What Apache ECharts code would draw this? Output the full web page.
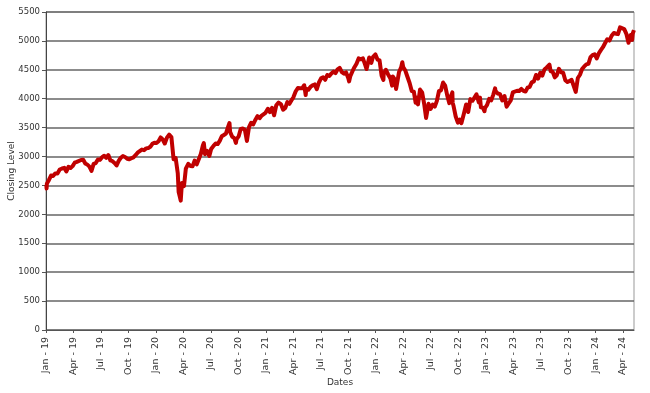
<!DOCTYPE html>
<html>
<head>
<meta charset="utf-8">
<script src="https://cdn.jsdelivr.net/npm/echarts@6/dist/echarts.min.js"></script>
<style>html,body{margin:0;padding:0;background:#fff;}#c{width:650px;height:393px;}</style>
</head>
<body>
<div id="c"></div>
<script>
const dates = [
'2019-01-02','2019-01-03','2019-01-04','2019-01-11','2019-01-18','2019-01-25','2019-02-01','2019-02-08','2019-02-15','2019-02-22','2019-03-01','2019-03-08','2019-03-15','2019-03-22','2019-03-29','2019-04-05','2019-04-12','2019-04-18','2019-04-26','2019-05-03','2019-05-10','2019-05-17','2019-05-24','2019-05-31','2019-06-07','2019-06-14','2019-06-21','2019-06-28','2019-07-05','2019-07-12','2019-07-19','2019-07-26','2019-08-02','2019-08-09','2019-08-16','2019-08-23','2019-08-30','2019-09-06','2019-09-13','2019-09-20','2019-09-27','2019-10-04','2019-10-11','2019-10-18','2019-10-25','2019-11-01','2019-11-08','2019-11-15','2019-11-22','2019-11-29','2019-12-06','2019-12-13','2019-12-20','2019-12-27',
'2020-01-03','2020-01-10','2020-01-17','2020-01-24','2020-01-31','2020-02-07','2020-02-14','2020-02-19','2020-02-21','2020-02-28','2020-03-06','2020-03-13','2020-03-16','2020-03-20','2020-03-23','2020-03-27','2020-04-03','2020-04-09','2020-04-17','2020-04-24','2020-05-01','2020-05-08','2020-05-15','2020-05-22','2020-05-29','2020-06-05','2020-06-08','2020-06-12','2020-06-19','2020-06-26','2020-07-02','2020-07-10','2020-07-17','2020-07-24','2020-07-31','2020-08-07','2020-08-14','2020-08-21','2020-08-28','2020-09-02','2020-09-04','2020-09-11','2020-09-18','2020-09-23','2020-09-25','2020-10-02','2020-10-09','2020-10-16','2020-10-23','2020-10-30','2020-11-06','2020-11-13','2020-11-20','2020-11-27','2020-12-04','2020-12-11','2020-12-18','2020-12-24','2020-12-31',
'2021-01-08','2021-01-15','2021-01-22','2021-01-29','2021-02-05','2021-02-12','2021-02-19','2021-02-26','2021-03-05','2021-03-12','2021-03-19','2021-03-26','2021-04-01','2021-04-09','2021-04-16','2021-04-23','2021-04-30','2021-05-07','2021-05-12','2021-05-14','2021-05-21','2021-05-28','2021-06-04','2021-06-11','2021-06-18','2021-06-25','2021-07-02','2021-07-09','2021-07-16','2021-07-23','2021-07-30','2021-08-06','2021-08-13','2021-08-20','2021-08-27','2021-09-03','2021-09-10','2021-09-17','2021-09-24','2021-10-01','2021-10-04','2021-10-08','2021-10-15','2021-10-22','2021-10-29','2021-11-05','2021-11-12','2021-11-19','2021-11-26','2021-12-01','2021-12-03','2021-12-10','2021-12-17','2021-12-23','2021-12-31',
'2022-01-03','2022-01-07','2022-01-14','2022-01-21','2022-01-27','2022-01-28','2022-02-04','2022-02-11','2022-02-18','2022-02-23','2022-02-25','2022-03-04','2022-03-08','2022-03-11','2022-03-18','2022-03-25','2022-03-29','2022-04-01','2022-04-08','2022-04-14','2022-04-22','2022-04-29','2022-05-06','2022-05-12','2022-05-13','2022-05-20','2022-05-27','2022-06-03','2022-06-10','2022-06-16','2022-06-17','2022-06-24','2022-07-01','2022-07-08','2022-07-15','2022-07-22','2022-07-29','2022-08-05','2022-08-12','2022-08-16','2022-08-19','2022-08-26','2022-09-02','2022-09-09','2022-09-12','2022-09-13','2022-09-16','2022-09-23','2022-09-30','2022-10-07','2022-10-12','2022-10-14','2022-10-21','2022-10-28','2022-11-04','2022-11-11','2022-11-18','2022-11-25','2022-12-01','2022-12-02','2022-12-09','2022-12-13','2022-12-16','2022-12-23','2022-12-28','2022-12-30',
'2023-01-06','2023-01-13','2023-01-20','2023-01-27','2023-02-02','2023-02-03','2023-02-10','2023-02-17','2023-02-24','2023-03-03','2023-03-10','2023-03-13','2023-03-17','2023-03-24','2023-03-31','2023-04-06','2023-04-14','2023-04-21','2023-04-28','2023-05-05','2023-05-12','2023-05-19','2023-05-26','2023-06-02','2023-06-09','2023-06-16','2023-06-23','2023-06-30','2023-07-07','2023-07-14','2023-07-21','2023-07-31','2023-08-04','2023-08-11','2023-08-18','2023-08-25','2023-09-01','2023-09-08','2023-09-15','2023-09-22','2023-09-29','2023-10-06','2023-10-13','2023-10-20','2023-10-27','2023-11-03','2023-11-10','2023-11-17','2023-11-24','2023-12-01','2023-12-08','2023-12-15','2023-12-22','2023-12-29',
'2024-01-05','2024-01-12','2024-01-19','2024-01-26','2024-02-02','2024-02-09','2024-02-16','2024-02-23','2024-03-01','2024-03-08','2024-03-15','2024-03-22','2024-03-28','2024-04-05','2024-04-12','2024-04-19','2024-04-26','2024-05-01','2024-05-03','2024-05-07'
];
const closes = [
2510,2448,2532,2596,2671,2665,2707,2708,2776,2793,2804,2743,2822,2801,2834,2893,2907,2905,2940,2946,2881,2860,2826,2752,2873,2887,2950,2942,2990,3014,2977,3026,2932,2919,2889,2847,2926,2979,3007,2992,2962,2952,2970,2986,3023,3067,3093,3120,3110,3141,3146,3169,3221,3240,
3235,3265,3330,3295,3226,3328,3380,3386,3338,2954,2972,2711,2386,2305,2237,2541,2489,2790,2875,2837,2831,2930,2864,2955,3044,3194,3232,3041,3098,3009,3130,3185,3225,3216,3271,3351,3373,3397,3508,3580,3427,3341,3319,3237,3298,3348,3477,3484,3465,3270,3510,3585,3558,3638,3699,3663,3709,3703,3756,
3825,3768,3841,3714,3887,3934,3907,3811,3842,3943,3913,3975,4020,4129,4185,4180,4181,4233,4063,4174,4156,4204,4230,4247,4166,4281,4352,4370,4327,4411,4395,4437,4468,4442,4509,4535,4459,4433,4455,4357,4300,4391,4471,4545,4605,4697,4682,4698,4595,4513,4538,4712,4620,4725,4766,
4796,4677,4663,4398,4326,4432,4500,4419,4349,4226,4385,4329,4170,4204,4463,4543,4632,4546,4488,4393,4272,4132,4123,3930,4024,3901,4158,4109,3901,3667,3675,3912,3825,3899,3863,3962,4130,4145,4280,4305,4228,4058,3924,4067,4110,3932,3873,3693,3586,3640,3577,3583,3752,3901,3771,3993,3965,4026,4077,4072,3934,4019,3852,3845,3783,3840,
3895,3999,3973,4071,4180,4136,4090,4079,3970,4046,3862,3856,3917,3971,4109,4105,4138,4133,4169,4136,4124,4192,4205,4282,4299,4410,4348,4450,4399,4505,4536,4589,4478,4464,4370,4406,4516,4457,4450,4320,4288,4308,4327,4224,4117,4358,4415,4514,4559,4595,4604,4719,4754,4770,
4697,4784,4840,4891,4959,5027,5006,5089,5137,5124,5117,5234,5254,5204,5123,4967,5100,5018,5128,5187
];
const tickLabels = ['Jan - 19','Apr - 19','Jul - 19','Oct - 19','Jan - 20','Apr - 20','Jul - 20','Oct - 20','Jan - 21','Apr - 21','Jul - 21','Oct - 21','Jan - 22','Apr - 22','Jul - 22','Oct - 22','Jan - 23','Apr - 23','Jul - 23','Oct - 23','Jan - 24','Apr - 24'];

function monthIndex(s){
  const [y,m,d] = s.split('-').map(Number);
  const dim = new Date(y, m, 0).getDate();
  return (y-2019)*12 + (m-1) + (d-1)/dim;
}
const seriesData = dates.map((d,i)=>[monthIndex(d), closes[i]]);
const tickPos = tickLabels.map((_,i)=>i*3);

const chart = echarts.init(document.getElementById('c'), null, {renderer:'canvas'});
chart.setOption({
  animation:false,
  backgroundColor:'#fff',
  grid:{left:46,right:16,top:12,bottom:63,show:true,borderColor:'#999',borderWidth:1,containLabel:false,outerBoundsMode:'none'},
  xAxis:{
    type:'value',min:0,max:64.2,
    name:'Dates',nameLocation:'middle',nameGap:48,nameMoveOverlap:false,
    nameTextStyle:{fontFamily:'DejaVu Sans',fontSize:9,color:'#333'},
    axisLine:{show:true,lineStyle:{color:'#555',width:1}},
    axisTick:{show:true,length:3,lineStyle:{color:'#555'},customValues:tickPos},
    splitLine:{show:false},
    axisLabel:{rotate:90,fontFamily:'DejaVu Sans',fontSize:9.5,color:'#333',margin:7,
      customValues:tickPos,
      formatter:function(v){
        const i = Math.round(v/3);
        return tickLabels[i] || '';
      }}
  },
  yAxis:{
    type:'value',min:0,max:5500,interval:500,
    name:'Closing Level',nameLocation:'middle',nameGap:30,nameMoveOverlap:false,
    nameTextStyle:{fontFamily:'DejaVu Sans',fontSize:9,color:'#333'},
    axisLine:{show:true,lineStyle:{color:'#444',width:1}},
    axisTick:{show:true,length:4,lineStyle:{color:'#555'}},
    splitLine:{show:true,lineStyle:{color:'#666',width:1.5}},
    axisLabel:{fontFamily:'DejaVu Sans',fontSize:8.5,color:'#333',margin:6,
      formatter:function(v){return String(v);}}
  },
  series:[{
    type:'line',data:seriesData,showSymbol:false,symbol:'none',
    lineStyle:{color:'#c00000',width:4,join:'round'},
    z:5
  }]
});
</script>
</body>
</html>
